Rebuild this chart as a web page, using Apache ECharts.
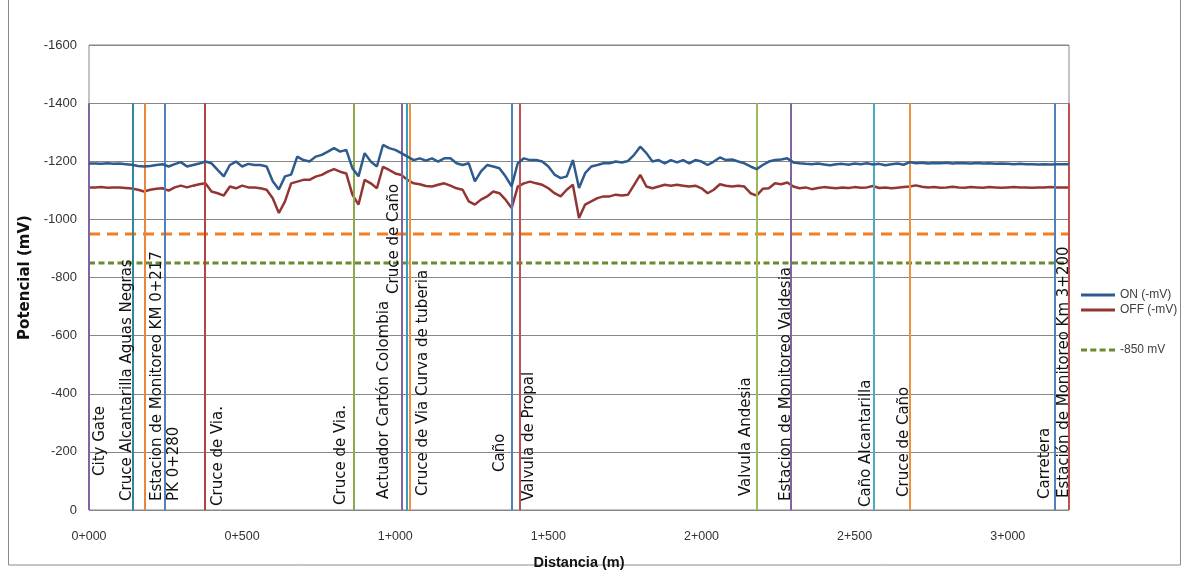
<!DOCTYPE html>
<html><head><meta charset="utf-8">
<script src="https://cdn.jsdelivr.net/npm/echarts@6/dist/echarts.min.js"></script>
<style>html,body{margin:0;padding:0;background:#fff}#c{width:1186px;height:575px}</style>
</head><body><div id="c"></div>
<script>
// ---- data ----
const STEP = 20; // metres between readings
const onValues = [
 -1192,-1192,-1191,-1193,-1191,-1192,-1190,-1188,-1184,-1182,
 -1184,-1187,-1190,-1182,-1190,-1197,-1182,-1187,-1192,-1199,
 -1193,-1170,-1148,-1187,-1199,-1182,-1191,-1187,-1187,-1182,
 -1131,-1103,-1148,-1154,-1216,-1204,-1199,-1216,-1222,-1233,
 -1245,-1233,-1239,-1176,-1148,-1228,-1199,-1182,-1256,-1245,
 -1239,-1228,-1216,-1204,-1210,-1202,-1210,-1199,-1210,-1210,
 -1193,-1187,-1193,-1131,-1165,-1187,-1182,-1176,-1148,-1114,
 -1193,-1210,-1204,-1204,-1199,-1182,-1154,-1142,-1148,-1204,
 -1108,-1159,-1182,-1187,-1193,-1193,-1199,-1196,-1201,-1222,
 -1250,-1228,-1199,-1204,-1193,-1204,-1196,-1204,-1193,-1204,
 -1199,-1187,-1199,-1213,-1204,-1206,-1199,-1193,-1182,-1173,
 -1187,-1199,-1204,-1206,-1210,-1196,-1193,-1191,-1190,-1192,
 -1189,-1186,-1190,-1191,-1188,-1192,-1190,-1193,-1189,-1191,
 -1186,-1190,-1192,-1188,-1197,-1193,-1195,-1192,-1194,-1193,
 -1195,-1192,-1194,-1193,-1192,-1194,-1192,-1193,-1191,-1192,
 -1191,-1190,-1191,-1190,-1190,-1189,-1190,-1189,-1190,-1190,
 -1190
];
const offValues = [
 -1110,-1110,-1111,-1109,-1110,-1110,-1108,-1106,-1102,-1096,
 -1102,-1105,-1107,-1099,-1110,-1116,-1110,-1116,-1121,-1124,
 -1096,-1090,-1082,-1113,-1107,-1116,-1110,-1110,-1107,-1102,
 -1073,-1022,-1062,-1124,-1130,-1136,-1136,-1147,-1153,-1164,
 -1173,-1164,-1158,-1085,-1051,-1136,-1124,-1107,-1181,-1170,
 -1158,-1153,-1136,-1124,-1121,-1115,-1113,-1119,-1124,-1116,
 -1107,-1102,-1062,-1051,-1068,-1079,-1096,-1090,-1068,-1039,
 -1113,-1124,-1130,-1124,-1119,-1107,-1090,-1079,-1102,-1119,
 -1005,-1051,-1062,-1073,-1079,-1079,-1085,-1082,-1085,-1119,
 -1153,-1113,-1107,-1113,-1119,-1116,-1119,-1116,-1113,-1116,
 -1107,-1090,-1102,-1121,-1116,-1113,-1116,-1113,-1090,-1082,
 -1105,-1107,-1124,-1121,-1127,-1113,-1107,-1110,-1104,-1108,
 -1111,-1109,-1107,-1110,-1108,-1111,-1109,-1110,-1115,-1108,
 -1110,-1107,-1109,-1111,-1113,-1117,-1112,-1110,-1111,-1109,
 -1110,-1112,-1110,-1109,-1111,-1110,-1109,-1111,-1110,-1109,
 -1110,-1111,-1110,-1110,-1109,-1110,-1110,-1111,-1110,-1110,
 -1110
];
const criterionLevel = -850;   // "-850 mV"
const orangeLevel = -950;
const markerNames = [
 'City Gate','Cruce Alcantarilla Aguas Negras','Estacion de Monitoreo KM 0+217','PK 0+280',
 'Cruce de Via.','Cruce de Via.','Actuador Cartón Colombia','Cruce de Caño',
 'Cruce de Via Curva de tuberia','Caño','Valvula de Propal','Valvula Andesia',
 'Estacion de Monitoreo Valdesia','Caño Alcantarilla','Cruce de Caño','Carretera',
 'Estación de Monitoreo Km 3+200'
];
const markerDist = [0,143,181,248,377,864,1020,1038,1047,1381,1405,2180,2291,2563,2680,3155,3200];
const markerTop = -1400;
const xMin = 0, xMax = 3200, xInterval = 500;
const yMin = -1600, yMax = 0, yInterval = 200;

// ---- styles / layout ----
const markerColors = ['#8064A2','#31859C','#E8883C','#4F81BD','#B5423F','#8DAA4B','#7E64A0','#3A9FBC',
 '#F09040','#4F81BD','#C0504D','#9BBB59','#8064A2','#4BACC6','#F0913F','#4F81BD','#C0504D'];
const labelDx = [11,-6,13,9,14,-12,-17,-13,13,-12,10,-11,-5,-8,-6,-10,-5];
const labelUp = [34,9,9,9,4,5,11,216,14,38,9,14,9,3,13,11,12];
const sans = "'Liberation Sans',Arial,sans-serif";
const ON_COLOR = '#2E5B8E', OFF_COLOR = '#933633', GREEN = '#6B8A2E';

const xs = onValues.map((_, i) => i * STEP);
const onData = onValues.map((v, i) => [xs[i], v]);
const offData = offValues.map((v, i) => [xs[i], v]);

const chart = echarts.init(document.getElementById('c'), null, {renderer: 'canvas'});
const fmtKm = m => Math.floor(m / 1000) + '+' + String(m % 1000).padStart(3, '0');

const legendBase = {left: 1081, itemWidth: 34, itemHeight: 3, itemGap: 5, padding: 0,
  textStyle: {fontFamily: sans, fontSize: 12, color: '#404040'}, selectedMode: false};
const solidIcon = 'path://M0,0h34v3h-34z';
const dashIcon = 'path://M0,0h6v3h-6zM9.3,0h6v3h-6zM18.6,0h6v3h-6zM28,0h6v3h-6z';

chart.setOption({
  animation: false,
  backgroundColor: '#fff',
  grid: {left: 89, top: 45, width: 980, height: 471, show: true, borderColor: '#878787', borderWidth: 1},
  xAxis: {
    type: 'value', min: xMin, max: xMax, interval: xInterval,
    name: 'Distancia (m)', nameLocation: 'middle', nameGap: 45,
    nameTextStyle: {fontFamily: sans, fontWeight: 'bold', fontSize: 14.5, color: '#111'},
    axisLine: {show: false}, axisTick: {show: false}, splitLine: {show: false},
    axisLabel: {formatter: fmtKm, showMaxLabel: false, margin: 20, fontFamily: sans, fontSize: 12.5, color: '#333'}
  },
  yAxis: {
    type: 'value', min: yMin, max: yMax, interval: yInterval, inverse: true,
    name: 'Potencial (mV)', nameLocation: 'middle', nameGap: 54,
    nameTextStyle: {fontFamily: "'DejaVu Sans',sans-serif", fontWeight: 'bold', fontSize: 15, color: '#111'},
    axisLine: {show: false}, axisTick: {show: false},
    splitLine: {lineStyle: {color: '#878787', width: 1}},
    axisLabel: {formatter: v => String(v), margin: 12, fontFamily: sans, fontSize: 13, color: '#333'}
  },
  legend: [
    Object.assign({data: [{name: 'ON (-mV)', icon: solidIcon}], top: 289}, legendBase),
    Object.assign({data: [{name: 'OFF (-mV)', icon: solidIcon}], top: 304}, legendBase),
    Object.assign({data: [{name: '-850 mV', icon: dashIcon}], top: 344}, legendBase)
  ],
  graphic: [{type: 'rect', shape: {x: 8.5, y: -2, width: 1172, height: 567},
    style: {fill: 'none', stroke: '#8c8c8c', lineWidth: 1}, silent: true, z: -1}],
  series: [
    {
      name: 'markers', type: 'line', data: [], silent: true, z: 2,
      markLine: {
        silent: true, symbol: ['none', 'none'], label: {show: false}, animation: false,
        data: markerDist.map((d, i) => [
          {coord: [d, 0], lineStyle: {color: markerColors[i], width: 2, type: 'solid'}},
          {coord: [d, markerTop]}
        ])
      }
    },
    {
      name: 'orange', type: 'line', showSymbol: false, symbol: 'none', silent: true, z: 3,
      data: [[xMin, orangeLevel], [xMax, orangeLevel]],
      lineStyle: {color: '#F47D20', width: 3, type: [11, 7]}
    },
    {
      name: '-850 mV', type: 'line', showSymbol: false, symbol: 'none', silent: true, z: 3,
      data: [[xMin, criterionLevel], [xMax, criterionLevel]],
      lineStyle: {color: GREEN, width: 3, type: [6, 3.5]},
      itemStyle: {color: GREEN}
    },
    {
      name: 'OFF (-mV)', type: 'line', showSymbol: false, symbol: 'none', z: 4,
      data: offData, lineStyle: {color: OFF_COLOR, width: 2.5}, itemStyle: {color: OFF_COLOR}
    },
    {
      name: 'ON (-mV)', type: 'line', showSymbol: false, symbol: 'none', z: 5,
      data: onData, lineStyle: {color: ON_COLOR, width: 2.5}, itemStyle: {color: ON_COLOR}
    },
    {
      name: 'labels', type: 'custom', coordinateSystem: 'cartesian2d', silent: true, z: 6, clip: false,
      data: markerDist.map((d, i) => [d, 0, i]),
      renderItem: (params, api) => {
        const i = api.value(2);
        const p = api.coord([api.value(0), 0]);
        return {
          type: 'text', x: p[0] + labelDx[i], y: p[1] - labelUp[i], rotation: Math.PI / 2,
          style: {text: markerNames[i], fontFamily: "'DejaVu Sans',sans-serif", fontSize: 15,
            fill: '#111', align: 'left', verticalAlign: 'middle'}
        };
      }
    }
  ]
});
</script>
</body></html>
